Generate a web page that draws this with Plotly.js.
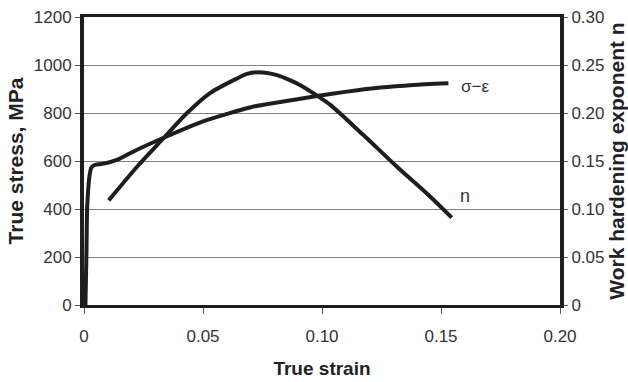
<!DOCTYPE html>
<html>
<head>
<meta charset="utf-8">
<script src="https://cdn.plot.ly/plotly-3.0.1.min.js"></script>
<style>html,body{margin:0;padding:0;background:#fff;}#chart{width:628px;height:382px;}</style>
</head>
<body>
<div id="chart"></div>
<script>
// True stress – true strain curve
var strainSE = [0.0006, 0.0010, 0.0013, 0.0020, 0.0025, 0.0030, 0.0038, 0.0048, 0.0083, 0.0146, 0.0223, 0.0335, 0.0503, 0.0713, 0.0825, 0.0980, 0.1105, 0.1245, 0.1384, 0.1531];
var stressSE = [0, 200, 397, 510, 550, 571, 580, 584, 589, 608, 647, 697, 766, 827, 846, 871, 889, 906, 917, 924];
// Work hardening exponent n
var strainN = [0.0104, 0.0223, 0.0335, 0.0433, 0.0531, 0.0643, 0.0685, 0.0734, 0.0811, 0.0867, 0.0909, 0.0980, 0.1035, 0.1174, 0.1315, 0.1454, 0.1545];
var nVal = [0.109, 0.144, 0.174, 0.200, 0.221, 0.236, 0.2407, 0.2425, 0.2395, 0.234, 0.229, 0.218, 0.2085, 0.177, 0.144, 0.113, 0.091];
// Tick labels
var xTicks = [0, 0.05, 0.10, 0.15, 0.20];
var xTickText = ['0', '0.05', '0.10', '0.15', '0.20'];
var yTicks = [0, 200, 400, 600, 800, 1000, 1200];
var y2Ticks = [0, 0.05, 0.10, 0.15, 0.20, 0.25, 0.30];
var y2TickText = ['0', '0.05', '0.10', '0.15', '0.20', '0.25', '0.30'];

var lineCol = '#1e1e1e';
var reg = 'Liberation Sans, Arial, sans-serif';

var traces = [
  {x: strainSE, y: stressSE, type: 'scatter', mode: 'lines', line: {color: lineCol, width: 4, shape: 'spline', smoothing: 0.5}, yaxis: 'y', hoverinfo: 'skip'},
  {x: strainN, y: nVal, type: 'scatter', mode: 'lines', line: {color: lineCol, width: 4, shape: 'spline', smoothing: 0.8}, yaxis: 'y2', hoverinfo: 'skip'}
];

var layout = {
  width: 628, height: 382,
  margin: {l: 84, r: 68, t: 17, b: 77, pad: 0},
  paper_bgcolor: '#fff', plot_bgcolor: '#fff',
  showlegend: false,
  font: {family: reg, color: '#222', size: 17},
  xaxis: {
    range: [0, 0.2], tickvals: xTicks, ticktext: xTickText,
    showline: true, linecolor: '#1e1e1e', linewidth: 3, mirror: true,
    ticks: 'outside', ticklen: 6, tickwidth: 1, tickcolor: '#555',
    ticklabelstandoff: 8,
    showgrid: false, zeroline: false,
    tickfont: {family: reg, size: 17, color: '#333'},
    title: {text: 'True strain', font: {family: reg, size: 19, color: '#222', weight: 'bold'}, standoff: 17}
  },
  yaxis: {
    range: [0, 1200], tickvals: yTicks,
    showline: true, linecolor: '#1e1e1e', linewidth: 4,
    ticks: 'outside', ticklen: 5, tickwidth: 1, tickcolor: '#555',
    showgrid: true, gridcolor: '#808080', gridwidth: 1, zeroline: false,
    tickfont: {family: reg, size: 17, color: '#333'},
    title: {text: 'True stress, MPa', font: {family: reg, size: 21, color: '#222', weight: 'bold'}, standoff: 5}
  },
  yaxis2: {
    range: [0, 0.30], tickvals: y2Ticks, ticktext: y2TickText,
    overlaying: 'y', side: 'right',
    showline: true, linecolor: '#1e1e1e', linewidth: 4,
    ticks: 'outside', ticklen: 4, tickwidth: 1, tickcolor: '#555',
    showgrid: false, zeroline: false,
    tickfont: {family: reg, size: 17, color: '#333'},
    title: {text: 'Work hardening exponent n', font: {family: reg, size: 21, color: '#222', weight: 'bold'}, standoff: 10}
  },
  annotations: [
    {x: 0.1577, y: 909, xref: 'x', yref: 'y', text: 'σ−ε', showarrow: false, xanchor: 'left', yanchor: 'middle', font: {family: reg, size: 17, color: '#333'}},
    {x: 0.157, y: 0.1139, xref: 'x', yref: 'y2', text: 'n', showarrow: false, xanchor: 'left', yanchor: 'middle', font: {family: reg, size: 18, color: '#333'}}
  ]
};

Plotly.newPlot('chart', traces, layout, {staticPlot: true, displayModeBar: false});
</script>
</body>
</html>
